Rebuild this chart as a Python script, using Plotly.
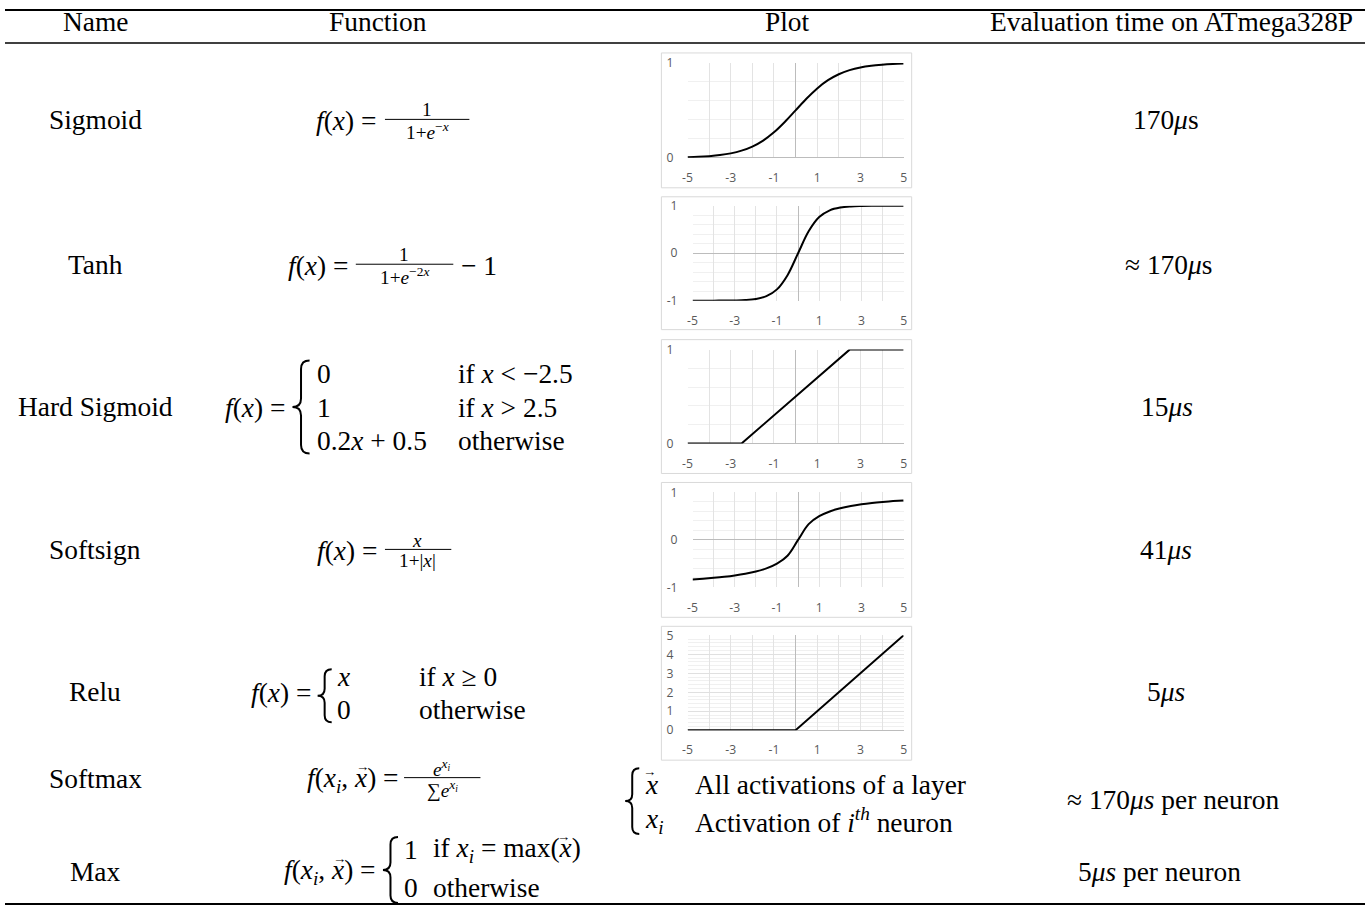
import plotly.graph_objects as go

# Window 1369x915. The photographed page is shown inside an 8px frame, so the
# background axis maps the figure onto target pixels 8..1361 x 8..907.
W, H = 1369, 915
PAD = 8
VW, VH = W - 2 * PAD, H - 2 * PAD

# ---------------- data ----------------
headers = ["Name", "Function", "Plot", "Evaluation time on ATmega328P"]
row_names = ["Sigmoid", "Tanh", "Hard Sigmoid", "Softsign", "Relu", "Softmax", "Max"]
eval_times = ["170<i>μ</i>s", "≈ 170<i>μ</i>s", "15<i>μs</i>", "41<i>μs</i>", "5<i>μs</i>",
              "≈ 170<i>μs</i> per neuron", "5<i>μs</i> per neuron"]

x_grid = [-5, -4.5, -4, -3.5, -3, -2.5, -2, -1.5, -1, -0.5, 0,
          0.5, 1, 1.5, 2, 2.5, 3, 3.5, 4, 4.5, 5]
sigmoid_y = [0.007, 0.011, 0.018, 0.029, 0.047, 0.076, 0.119, 0.182, 0.269, 0.378, 0.5,
             0.622, 0.731, 0.818, 0.881, 0.924, 0.953, 0.971, 0.982, 0.989, 0.993]
tanh_y = [-1.0, -1.0, -0.999, -0.998, -0.995, -0.987, -0.964, -0.905, -0.762, -0.462, 0.0,
          0.462, 0.762, 0.905, 0.964, 0.987, 0.995, 0.998, 0.999, 1.0, 1.0]
softsign_y = [-0.833, -0.818, -0.8, -0.778, -0.75, -0.714, -0.667, -0.6, -0.5, -0.333, 0.0,
              0.333, 0.5, 0.6, 0.667, 0.714, 0.75, 0.778, 0.8, 0.818, 0.833]
hard_x = [-5, -2.5, 2.5, 5]
hard_y = [0, 0, 1, 1]
relu_x = [-5, 0, 5]
relu_y = [0, 0, 5]

x_ticks = [-5, -4, -3, -2, -1, 0, 1, 2, 3, 4, 5]
x_ticktext = ["-5", "", "-3", "", "-1", "", "1", "", "3", "", "5"]

# ---------------- layout helpers ----------------
SC = 1 / 0.985  # font compensation for the frame scaling

def px(x):
    return (x - PAD) / VW

def py(y):
    return 1 - (y - PAD) / VH

fig = go.Figure()

layout = dict(
    width=W, height=H, margin=dict(l=0, r=0, t=0, b=0),
    paper_bgcolor="white", plot_bgcolor="rgba(0,0,0,0)",
    showlegend=False,
    xaxis=dict(domain=[0, 1], range=[PAD, PAD + VW], visible=False, fixedrange=True),
    yaxis=dict(domain=[0, 1], range=[PAD + VH, PAD], visible=False, fixedrange=True),
)

mini = [
    (x_grid, sigmoid_y, [0, 1], [0, 1], (687, 902, 62, 157), (661, 910, 52, 187)),
    (x_grid, tanh_y, [-1, 1], [-1, 0, 1], (692, 902, 205, 300), (661, 910, 196, 329)),
    (hard_x, hard_y, [0, 1], [0, 1], (687, 902, 349, 443), (661, 910, 339, 473)),
    (x_grid, softsign_y, [-1, 1], [-1, 0, 1], (692, 902, 492, 587), (661, 910, 482, 617)),
    (relu_x, relu_y, [0, 5], [0, 1, 2, 3, 4, 5], (687, 902, 635, 730), (661, 910, 626, 760)),
]

shapes = []
tick_font = dict(family="Open Sans, Liberation Sans", size=12 * SC, color="#595959")
for i, (xs, ys, yr, yt, box, border) in enumerate(mini):
    k = i + 2
    x0, x1, y0, y1 = box
    spline = "spline" if xs is x_grid else "linear"
    fig.add_trace(go.Scatter(x=xs, y=ys, mode="lines", line=dict(color="black", width=2, shape=spline),
                             xaxis=f"x{k}", yaxis=f"y{k}", hoverinfo="skip"))
    layout[f"xaxis{k}"] = dict(
        domain=[px(x0), px(x1)], anchor=f"y{k}", range=[-5, 5],
        tickmode="array", tickvals=x_ticks, ticktext=x_ticktext,
        showgrid=True, gridcolor="#e3e3e3", gridwidth=1,
        zeroline=True, zerolinecolor="#bcbcbc", zerolinewidth=1,
        showline=False, ticks="", tickfont=tick_font, ticklabelstandoff=11,
        fixedrange=True,
    )
    layout[f"yaxis{k}"] = dict(
        domain=[py(y1), py(y0)], anchor=f"x{k}", range=yr,
        tickmode="array", tickvals=yt, ticktext=[str(v) for v in yt],
        showgrid=True, gridcolor="#e0e0e0", gridwidth=1,
        minor=dict(tickmode="linear", tick0=0, dtick=0.2, showgrid=True, gridcolor="#f0f0f0", gridwidth=1),
        zeroline=True, zerolinecolor="#bcbcbc", zerolinewidth=1,
        showline=False, ticks="", tickfont=tick_font,
        ticklabelstandoff=(13 if yr[0] == 0 else 14),
        fixedrange=True,
    )
    bx0, bx1, by0, by1 = border
    shapes.append(dict(type="rect", xref="x", yref="y", x0=bx0, x1=bx1, y0=by0, y1=by1,
                       line=dict(color="#d9d9d9", width=1), layer="below"))

# table rules
shapes.append(dict(type="line", xref="x", yref="y", x0=0, x1=W, y0=9, y1=9, line=dict(color="black", width=2)))
shapes.append(dict(type="line", xref="x", yref="y", x0=0, x1=W, y0=42, y1=42, line=dict(color="black", width=1.5)))
shapes.append(dict(type="line", xref="x", yref="y", x0=0, x1=W, y0=904, y1=904, line=dict(color="black", width=2)))

def frac_bar(xa, xb, y):
    shapes.append(dict(type="line", xref="x", yref="y", x0=xa, x1=xb, y0=y, y1=y, line=dict(color="black", width=1)))

def brace(xtip, xarm, yt, yb):
    xm = (xtip + xarm) / 2
    ym = (yt + yb) / 2
    r = (xarm - xtip) / 2
    path = (f"M {xarm},{yt} Q {xm},{yt} {xm},{yt + r} L {xm},{ym - r} "
            f"Q {xm},{ym} {xtip},{ym} Q {xm},{ym} {xm},{ym + r} "
            f"L {xm},{yb - r} Q {xm},{yb} {xarm},{yb}")
    shapes.append(dict(type="path", xref="x", yref="y", path=path, line=dict(color="black", width=2)))

annotations = []
SERIF = "Liberation Serif, Times New Roman, serif"
BIG = 27.0 * SC
SMALL = 19 * SC

def T(x, y, text, size=BIG, xanchor="center"):
    annotations.append(dict(x=x, y=y, xref="x", yref="y", text=text, showarrow=False,
                            xanchor=xanchor, yanchor="middle",
                            font=dict(family=SERIF, size=size, color="black")))

def vec_arrow(xc, y):
    T(xc, y - 14, "→", size=13 * SC)

header_x = [98, 379, 786, 1168]
for hx, h in zip(header_x, headers):
    T(hx, 21, h)

name_y = [119, 264, 406, 550, 692, 779, 872]
for ny, n in zip(name_y, row_names):
    T(98, ny, n)

eval_pos = [(1163, 119), (1166, 264), (1164, 406), (1163, 550), (1163, 692), (1170, 800), (1157, 872)]
for (ex, ey), e in zip(eval_pos, eval_times):
    T(ex, ey, e)

FX = "<i>f</i>(<i>x</i>) ="
FXI = "<i>f</i>(<i>x<sub>i</sub></i>, <i>x</i>) ="

# Sigmoid
T(379, 120, FX, xanchor="right")
T(428, 109, "1", size=SMALL)
frac_bar(386, 470, 118.5)
T(428, 130, "1+<i>e</i><sup>−<i>x</i></sup>", size=SMALL)

# Tanh
T(351, 265, FX, xanchor="right")
T(405, 254, "1", size=SMALL)
frac_bar(357, 454, 263.5)
T(405, 275, "1+<i>e</i><sup>−2<i>x</i></sup>", size=SMALL)
T(460, 265, "− 1", xanchor="left")

# Hard sigmoid
T(289, 407, FX, xanchor="right")
brace(294, 311, 360, 453)
T(316, 373, "0", xanchor="left")
T(316, 407, "1", xanchor="left")
T(316, 440, "0.2<i>x</i> + 0.5", xanchor="left")
T(457, 373, "if <i>x</i> < −2.5", xanchor="left")
T(457, 407, "if <i>x</i> > 2.5", xanchor="left")
T(457, 440, "otherwise", xanchor="left")

# Softsign
T(380, 551, FX, xanchor="right")
T(418, 540, "<i>x</i>", size=SMALL)
frac_bar(386, 452, 549)
T(418, 560, "1+|<i>x</i>|", size=SMALL)

# Relu
T(314, 693, FX, xanchor="right")
brace(319, 333, 669, 722)
T(336, 677, "<i>x</i>", xanchor="left")
T(336, 710, "0", xanchor="left")
T(418, 677, "if <i>x</i> ≥ 0", xanchor="left")
T(418, 710, "otherwise", xanchor="left")

# Softmax
T(402, 780, FXI, xanchor="right")
vec_arrow(402 - 38, 780)
T(443, 768, "<i>e</i><sup><i>x<sub>i</sub></i></sup>", size=SMALL)
frac_bar(405, 481, 777.5)
T(443, 789, "∑<i>e</i><sup><i>x<sub>i</sub></i></sup>", size=SMALL)
brace(625, 639, 768, 834)
T(643, 785, "<i>x</i>", xanchor="left")
vec_arrow(649, 785)
T(643, 821, "<i>x<sub>i</sub></i>", xanchor="left")
T(692, 785, "All activations of a layer", xanchor="left")
T(692, 820, "Activation of <i>i</i><sup><i>th</i></sup> neuron", xanchor="left")

# Max
T(379, 872, FXI, xanchor="right")
vec_arrow(379 - 38, 872)
brace(384, 399, 837, 903)
T(403, 850, "1", xanchor="left")
T(403, 888, "0", xanchor="left")
T(432, 850, "if <i>x<sub>i</sub></i> = max(<i>x</i>)", xanchor="left")
vec_arrow(432 + 132, 850)
T(432, 888, "otherwise", xanchor="left")

layout["shapes"] = shapes
layout["annotations"] = annotations
fig.update_layout(**layout)

css = ("html,body{margin:0!important;padding:0!important;overflow:hidden!important;}"
       "body>div{margin:0!important;padding:0!important;}")
post = ("var s=document.createElement('style');s.textContent='" + css + "';"
        "document.head.appendChild(s);")
fig.write_html("out.html", post_script=post, config={"displayModeBar": False})
